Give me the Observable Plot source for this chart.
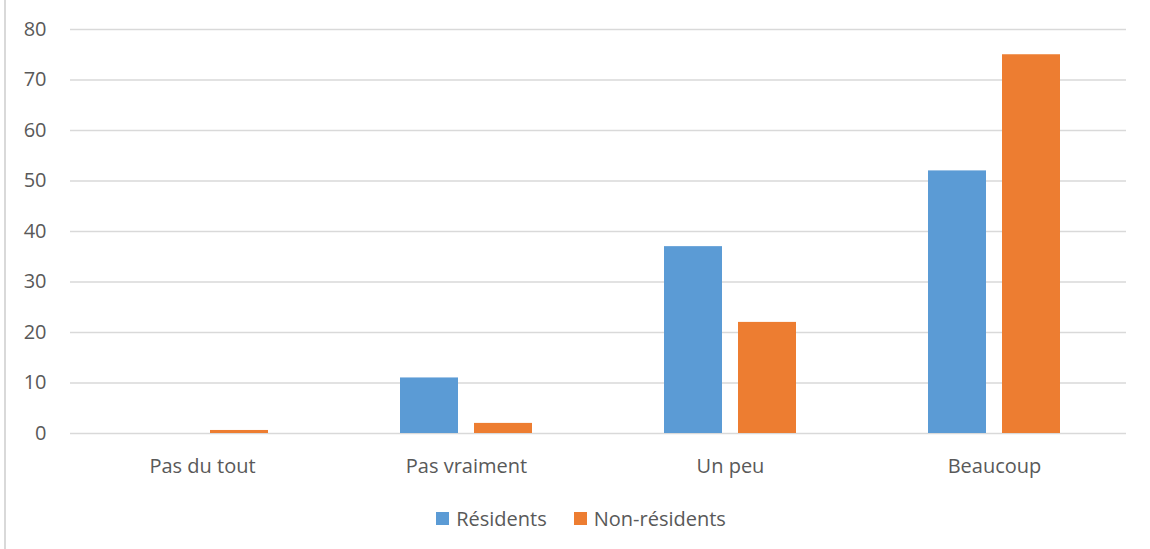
<!DOCTYPE html>
<html><head><meta charset="utf-8">
<script src="https://cdn.jsdelivr.net/npm/d3@7"></script>
<script src="https://cdn.jsdelivr.net/npm/@observablehq/plot@0.6"></script>
<style>
body{margin:0;background:#fff;font-family:"Open Sans",sans-serif;}
#wrap{position:relative;width:1150px;height:549px;overflow:hidden;background:#fff;}
#border{position:absolute;left:4px;top:0;width:2px;height:549px;background:#d9d9d9;}
#chart{position:absolute;left:0;top:0;}
#legend{position:absolute;top:505px;left:0;width:1150px;padding-left:12px;box-sizing:border-box;display:flex;justify-content:center;align-items:center;font-size:20px;color:#595959;}
.item{display:flex;align-items:center;}
.sw{width:13px;height:13px;margin-right:7px;}
.item + .item{margin-left:27px;}
</style></head>
<body>
<div id="wrap"><div id="border"></div><div id="chart"></div><div id="legend"></div></div>
<script>
const categories = ["Pas du tout", "Pas vraiment", "Un peu", "Beaucoup"];
const series = ["Résidents", "Non-résidents"];
const residents = [0, 11, 37, 52];
const nonResidents = [0.6, 2, 22, 75];
const yTicks = [0, 10, 20, 30, 40, 50, 60, 70, 80];
const colors = ["#5B9BD5", "#ED7D31"];

const data = [];
categories.forEach((c, i) => {
  data.push({category: c, series: series[0], value: residents[i]});
  data.push({category: c, series: series[1], value: nonResidents[i]});
});

const chart = Plot.plot({
  width: 1150,
  height: 490,
  marginLeft: 69,
  marginRight: 23,
  marginTop: 29,
  marginBottom: 57,
  style: {fontFamily: "'Open Sans', sans-serif", fontSize: "20px", color: "#595959", background: "transparent"},
  fx: {domain: categories, padding: 0, axis: "bottom", tickSize: 0, tickPadding: 25, label: null},
  x: {domain: series, axis: null, paddingInner: 0.213, paddingOuter: 0.87},
  y: {domain: [0, 80], ticks: yTicks, tickSize: 0, tickPadding: 24, label: null, grid: false},
  color: {domain: series, range: colors},
  marks: [
    Plot.gridY(yTicks, {stroke: "#d9d9d9", strokeOpacity: 1, strokeWidth: 1.3}),
    Plot.barY(data, {fx: "category", x: "series", y: "value", fill: "series"})
  ]
});
chart.querySelectorAll("text").forEach(t => t.setAttribute("fill", "#595959"));
document.getElementById("chart").appendChild(chart);

const legend = document.getElementById("legend");
series.forEach((s, i) => {
  const it = document.createElement("div");
  it.className = "item";
  it.innerHTML = `<div class="sw" style="background:${colors[i]}"></div><span>${s}</span>`;
  legend.appendChild(it);
});
</script>
</body></html>
